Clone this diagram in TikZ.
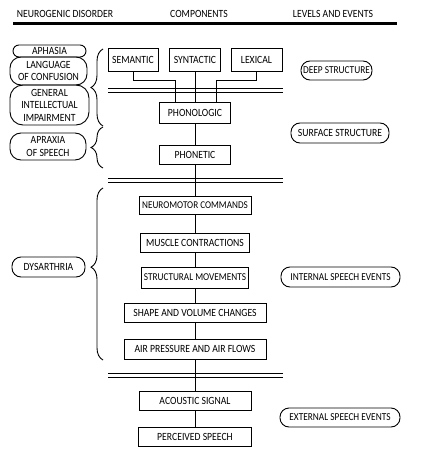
\documentclass[tikz,border=0pt]{standalone}
\usepackage{fontspec}
\setmainfont{Carlito}[FakeStretch=0.88]
\usetikzlibrary{decorations.pathreplacing}
\begin{document}
\begin{tikzpicture}[x=1pt,y=-1pt,
  every node/.style={font=\fontsize{11}{12.5}\selectfont, align=center, inner sep=0pt},
  tight/.style={font=\fontsize{#1}{12.5}\selectfont},
  lw/.style={line width=0.9pt},
  box/.style={draw, lw},
  oval/.style={draw, lw, rounded corners=#1},
  sep/.style={lw},
  brc/.style={lw, decorate, decoration={brace, amplitude=12pt, #1}},
  brc/.default={aspect=0.5}]
\useasboundingbox (0,0) rectangle (421,460);
% header
\node (h1) at (65,14) {NEUROGENIC DISORDER};
\node (h2) at (199,14) {COMPONENTS};
\node (h3) at (333,14) {LEVELS AND EVENTS};
\coordinate (hl) at (13,24);
\coordinate (hr) at (397,24);
\draw[line width=3pt] (hl) -- (hr);
% component boxes
\node[box, minimum width=50pt, minimum height=23pt] (sem) at (133,59.5) {SEMANTIC};
\node[box, minimum width=51pt, minimum height=23pt] (syn) at (195,59.5) {SYNTACTIC};
\node[box, minimum width=51pt, minimum height=23pt] (lex) at (256.5,59.5) {LEXICAL};
\node[box, minimum width=71pt, minimum height=21pt] (phl) at (195,112.5) {PHONOLOGIC};
\node[box, minimum width=71pt, minimum height=19pt] (pht) at (195,154.5) {PHONETIC};
\node[box, minimum width=112pt, minimum height=18pt, tight=10.4] (neu) at (195,205) {NEUROMOTOR COMMANDS};
\node[box, minimum width=109pt, minimum height=19pt] (mus) at (195,242.5) {MUSCLE CONTRACTIONS};
\node[box, minimum width=107pt, minimum height=21pt, tight=10.5] (str) at (195,277.5) {STRUCTURAL MOVEMENTS};
\node[box, minimum width=142pt, minimum height=19pt] (shp) at (195,312.5) {SHAPE AND VOLUME CHANGES};
\node[box, minimum width=142pt, minimum height=20pt] (air) at (195,349) {AIR PRESSURE AND AIR FLOWS};
\node[box, minimum width=112pt, minimum height=19pt] (aco) at (195,400.5) {ACOUSTIC SIGNAL};
\node[box, minimum width=113pt, minimum height=19pt] (per) at (195,436.5) {PERCEIVED SPEECH};
% levels
\node[oval=9pt, minimum width=71pt, minimum height=19pt, tight=10.6] (deep) at (336.5,70.5) {DEEP STRUCTURE};
\node[oval=9pt, minimum width=98pt, minimum height=20pt] (surf) at (340,133) {SURFACE STRUCTURE};
\node[oval=9pt, minimum width=119pt, minimum height=20pt, tight=10.6] (int) at (340.5,277) {INTERNAL SPEECH EVENTS};
\node[oval=9pt, minimum width=120pt, minimum height=19pt, tight=10.6] (ext) at (340,417.5) {EXTERNAL SPEECH EVENTS};
% disorders
\node[oval=6pt, minimum width=73pt, minimum height=12pt] (aph) at (49.5,51) {APHASIA};
\node[oval=11pt, minimum width=77pt, minimum height=28pt] (lan) at (48.5,71) {LANGUAGE\\OF CONFUSION};
\node[oval=13pt, minimum width=79pt, minimum height=40pt] (gen) at (49.5,105) {GENERAL\\INTELLECTUAL\\IMPAIRMENT};
\node[oval=11pt, minimum width=76pt, minimum height=27pt] (apr) at (48,146.5) {APRAXIA\\OF SPEECH};
\node[oval=9pt, minimum width=73pt, minimum height=20pt] (dys) at (48.5,267) {DYSARTHRIA};
% separators
\foreach \y in {88,92,178,182,373,377} \draw[sep] (108,\y) -- (283,\y);
% braces
\coordinate (b1t) at (103,49);  \coordinate (b1b) at (103,126);
\coordinate (b2t) at (103,127); \coordinate (b2b) at (103,168);
\coordinate (b3t) at (103,188); \coordinate (b3b) at (103,360);
\draw[brc] (b1b) -- (b1t);
\draw[brc] (b2b) -- (b2t);
\draw[brc={aspect=0.54}] (b3b) -- (b3t);
% connectors
\draw[lw] (sem.south) -- ++(0,9) -| ([xshift=-20pt]phl.north);
\draw[lw] (syn.south) -- (phl.north);
\draw[lw] (lex.south) -- ++(0,9) -| ([xshift=21pt]phl.north);
\draw[lw] (phl.south) -- (pht.north);
\draw[lw] (pht.south) -- (neu.north);
\draw[lw] (neu.south) -- (mus.north);
\draw[lw] (mus.south) -- (str.north);
\draw[lw] (str.south) -- (shp.north);
\draw[lw] (shp.south) -- (air.north);
\draw[lw] (air.south) -- (aco.north);
\draw[lw] (aco.south) -- (per.north);
\end{tikzpicture}
\end{document}
